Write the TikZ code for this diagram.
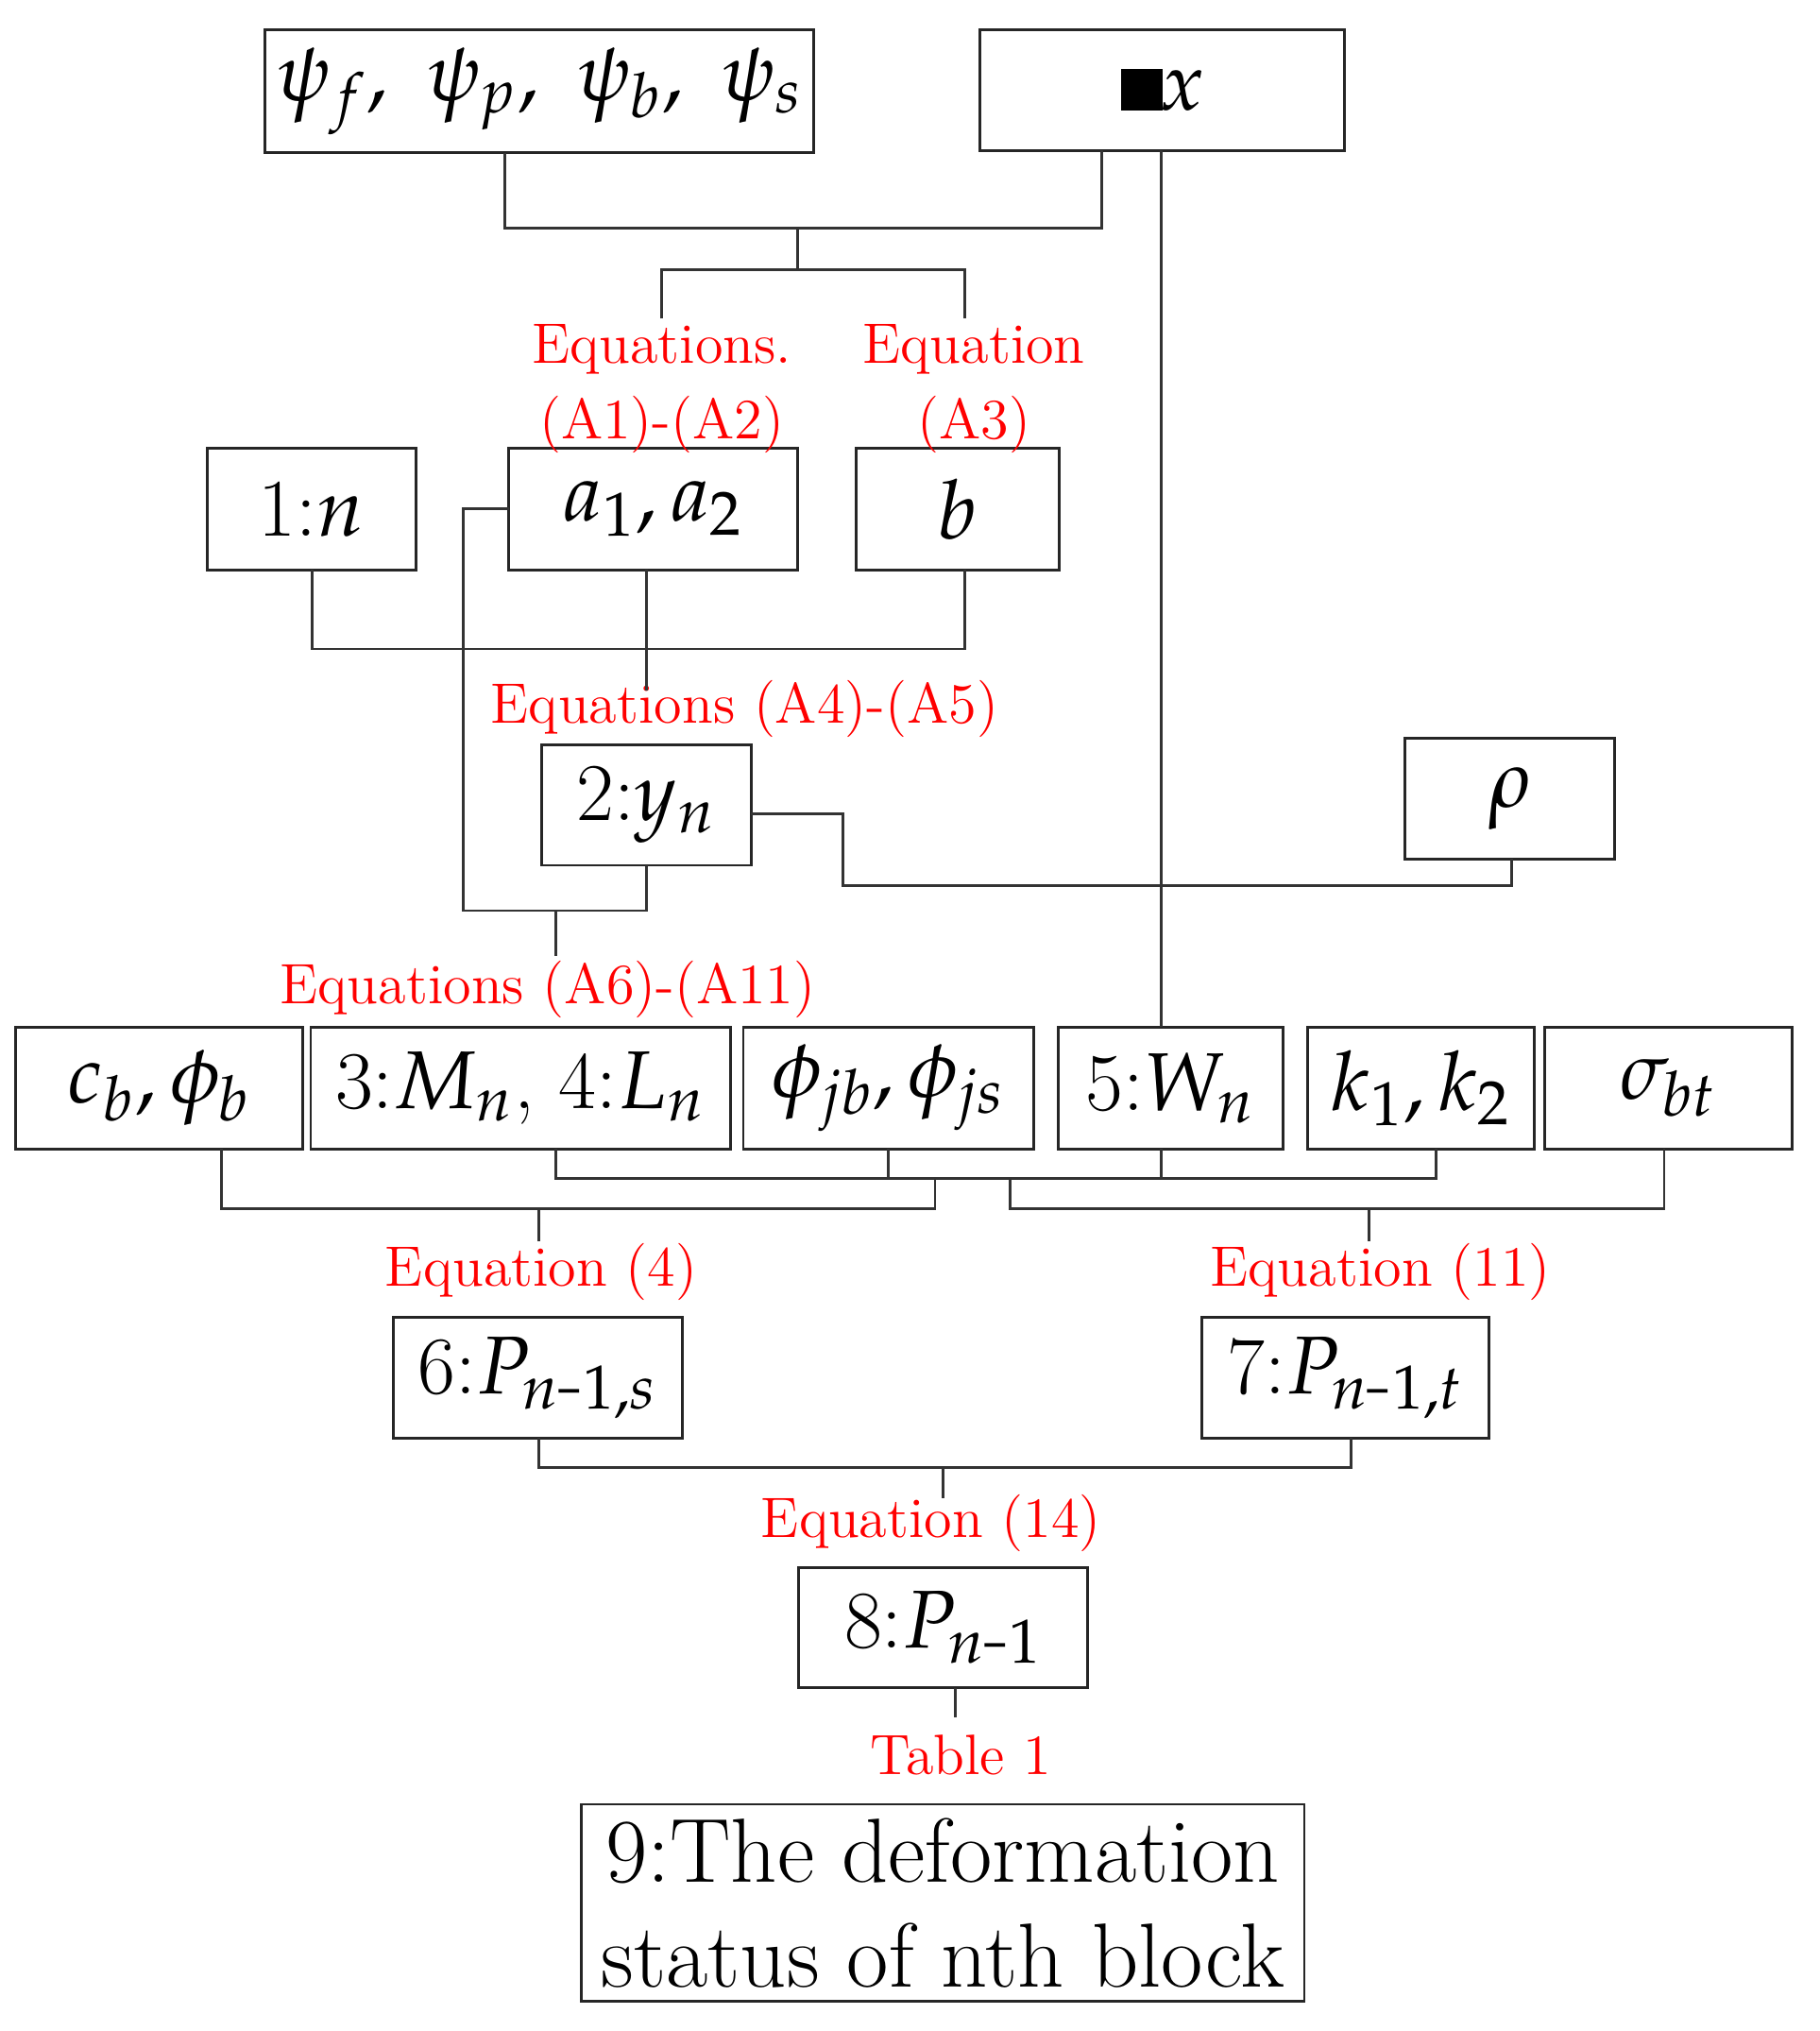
\documentclass[tikz,border=0pt]{standalone}
\usepackage{mathpazo}
\begin{document}
\begin{tikzpicture}[x=0.01cm,y=-0.01cm,
  box/.style={draw=black!85,line width=0.6pt,inner sep=0pt,font=\fontsize{18}{20}\selectfont\itshape},
  lab/.style={text=red,inner sep=0pt,font=\fontsize{12.5}{14}\selectfont},
  ln/.style={draw=black!80,line width=0.6pt}]
\useasboundingbox (0,0) rectangle (1405,1568);
\node[box,minimum width=4.23cm,minimum height=0.95cm] (psi) at (416.5,70.5) {$\psi_f,\ \psi_p,\ \psi_b,\ \psi_s$};
\node[box,minimum width=2.81cm,minimum height=0.93cm] (dx) at (897.5,69.5) {$\mathit{\Delta x}$};
\node[box,minimum width=1.61cm,minimum height=0.94cm] (n1) at (240.5,393) {1:$n$};
\node[box,minimum width=2.23cm,minimum height=0.94cm] (a) at (504.5,393) {$a_1,a_2$};
\node[box,minimum width=1.57cm,minimum height=0.94cm] (b) at (739.5,393) {$b$};
\node[box,minimum width=1.62cm,minimum height=0.93cm] (y) at (499,621.5) {2:$y_n$};
\node[box,minimum width=1.62cm,minimum height=0.93cm] (rho) at (1166,616.5) {$\rho$};
\node[box,minimum width=2.22cm,minimum height=0.94cm] (cb) at (123,840) {$c_b,\phi_b$};
\node[box,minimum width=3.24cm,minimum height=0.94cm] (m) at (402,840) {3:$M_n$, 4:$L_n$};
\node[box,minimum width=2.24cm,minimum height=0.94cm] (phi) at (686,840) {$\phi_{jb},\phi_{js}$};
\node[box,minimum width=1.74cm,minimum height=0.94cm] (w) at (904,840) {5:$W_n$};
\node[box,minimum width=1.75cm,minimum height=0.94cm] (k) at (1097.5,840) {$k_1,k_2$};
\node[box,minimum width=1.91cm,minimum height=0.94cm] (sig) at (1288.5,840) {$\sigma_{bt}$};
\node[box,minimum width=2.23cm,minimum height=0.93cm] (p6) at (415.5,1063.5) {6:$P_{n\mbox{-}1,s}$};
\node[box,minimum width=2.22cm,minimum height=0.93cm] (p7) at (1039,1063.5) {7:$P_{n\mbox{-}1,t}$};
\node[box,minimum width=2.23cm,minimum height=0.93cm] (p8) at (728.5,1256.5) {8:$P_{n\mbox{-}1}$};
\node[box,minimum width=5.58cm,minimum height=1.52cm,align=center,font=\fontsize{20}{23}\selectfont\itshape] (s9) at (728,1469) {9:The deformation\\status of nth block};
% labels
\node[lab] (l1) at (511,270) {Equations.};
\node[lab] (l1b) at (511,328) {(A1)-(A2)};
\node[lab] (l2) at (752,270) {Equation};
\node[lab] (l2b) at (752,328) {(A3)};
\node[lab] (l3) at (575,547) {Equations (A4)-(A5)};
\node[lab] (l4) at (423,764) {Equations (A6)-(A11)};
\node[lab] (l5) at (418,982) {Equation (4)};
\node[lab] (l6) at (1066,982) {Equation (11)};
\node[lab] (l7) at (719,1176) {Equation (14)};
\node[lab] (l8) at (742,1355) {Table 1};
% connectors
\draw[ln] (390,118) -- (390,176) -- (851,176) -- (851,116);
\draw[ln] (616,176) -- (616,208);
\draw[ln] (511,246) -- (511,208) -- (745,208) -- (745,246);
\draw[ln] (897,116) -- (897,793);
\draw[ln] (241,440) -- (241,501) -- (745,501) -- (745,440);
\draw[ln] (499,440) -- (499,533);
\draw[ln] (393,393) -- (358,393) -- (358,703) -- (499,703) -- (499,668);
\draw[ln] (429,703) -- (429,738);
\draw[ln] (580,628) -- (651,628) -- (651,684) -- (1167,684) -- (1167,663);
\draw[ln] (429,887) -- (429,910) -- (1109,910) -- (1109,887);
\draw[ln] (686,887) -- (686,910);
\draw[ln] (897,887) -- (897,910);
\draw[ln] (171,887) -- (171,933) -- (722,933) -- (722,910);
\draw[ln] (780,910) -- (780,933) -- (1285,933) -- (1285,887);
\draw[ln] (416,933) -- (416,958);
\draw[ln] (1057,933) -- (1057,958);
\draw[ln] (416,1110) -- (416,1133) -- (1043,1133) -- (1043,1110);
\draw[ln] (728,1133) -- (728,1157);
\draw[ln] (738,1303) -- (738,1326);
\end{tikzpicture}
\end{document}
